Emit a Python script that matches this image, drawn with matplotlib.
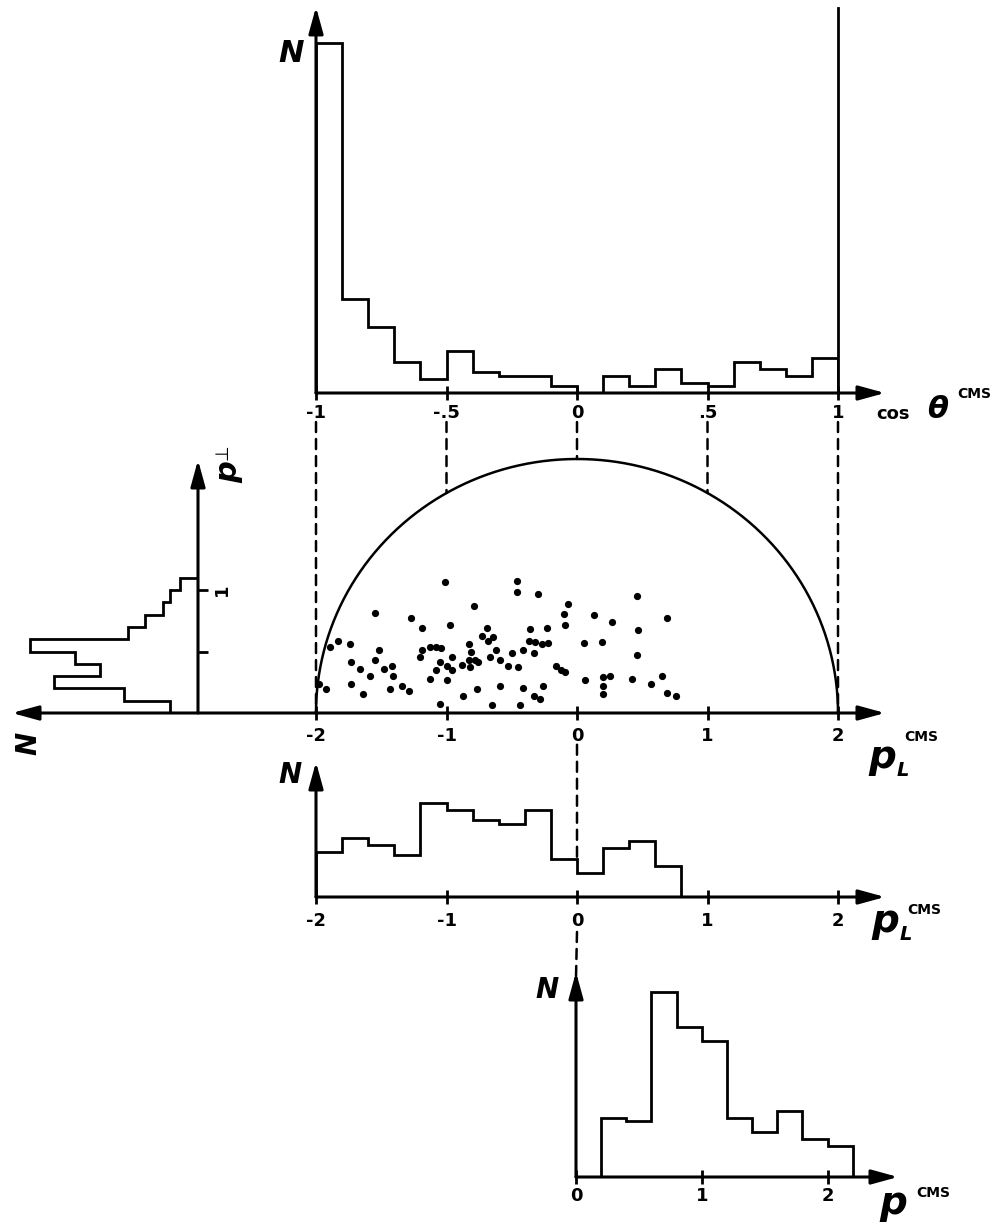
import numpy as np
import matplotlib
matplotlib.use("Agg")
import matplotlib.pyplot as plt
from matplotlib.patches import ConnectionPatch

# ---- histogram contents (events per bin) ----
cos_start, cos_width = -1.0, 0.1
cos_counts = [100, 27, 19, 9, 4, 12, 6, 5, 5, 2, 0, 5, 2, 7, 3, 2, 9, 7, 5, 10]

pl_start, pl_width = -2.0, 0.2
pl_counts = [13, 17, 15, 12, 27, 25, 22, 21, 25, 11, 7, 14, 16, 9]

pt_start, pt_width = 0.0, 0.1
pt_counts = [8, 21, 41, 28, 35, 48, 20, 15, 10, 8, 5]

p_start, p_width = 0.2, 0.2
p_counts = [17, 16, 53, 43, 39, 17, 13, 19, 11, 9]

# ---- single events in the (p_L, p_T) plane ----
pl_events = [
    -1.01, -0.79, -1.55, -1.27, -1.19, -0.97,
    -0.96, -1.05, -1.00, -1.08, -0.96, -1.00,
    -0.83, -0.81, -0.83, -0.78, -0.88, -0.82, -0.76, -0.67, -0.59,
    -0.69, -0.73, -0.64, -0.68, -0.62,
    -1.83, -1.74, -1.89, -1.52, -1.19, -1.13, -1.08, -1.04, -1.20, -1.55,
    -1.73, -1.66, -1.48, -1.42, -1.41, -1.59, -1.13, -1.73, -1.92, -1.98,
    -1.43, -1.34, -1.29, -1.64, -0.77, -0.59, -0.87, -1.05, -0.65,
    -0.46, -0.46, -0.30, -0.07, -0.10, -0.09, 0.13, 0.27, 0.46, 0.69,
    0.47, -0.36, -0.23, -0.37, -0.32, -0.27, -0.22, -0.41, -0.33, -0.50,
    -0.53, -0.45, 0.05, 0.19, 0.46, -0.16, -0.12, -0.09, -0.41, -0.26,
    -0.33, -0.28, -0.44, 0.06, 0.20, 0.25, 0.20, 0.20, 0.42, 0.57,
    0.65, 0.69, 0.76,
]
pt_events = [
    1.03, 0.84, 0.79, 0.75, 0.67, 0.69,
    0.44, 0.40, 0.37, 0.34, 0.34, 0.26,
    0.54, 0.48, 0.42, 0.42, 0.38, 0.36, 0.40, 0.44, 0.42,
    0.67, 0.61, 0.60, 0.57, 0.50,
    0.57, 0.54, 0.52, 0.50, 0.50, 0.52, 0.52, 0.51, 0.44, 0.42,
    0.40, 0.35, 0.35, 0.37, 0.29, 0.29, 0.27, 0.23, 0.19, 0.23,
    0.19, 0.21, 0.17, 0.15, 0.19, 0.21, 0.13, 0.07, 0.06,
    1.04, 0.95, 0.94, 0.86, 0.78, 0.69, 0.77, 0.72, 0.92, 0.75,
    0.65, 0.66, 0.67, 0.57, 0.56, 0.54, 0.55, 0.50, 0.47, 0.47,
    0.37, 0.36, 0.55, 0.56, 0.46, 0.37, 0.34, 0.32, 0.20, 0.21,
    0.13, 0.11, 0.06, 0.26, 0.28, 0.29, 0.21, 0.15, 0.27, 0.23,
    0.29, 0.16, 0.13,
]

P_MAX = 2.0  # kinematic limit of the momentum

cos_ticks = [-1, -0.5, 0, 0.5, 1]
cos_ticklabels = ["-1", "-.5", "0", ".5", "1"]
pl_ticks = [-2, -1, 0, 1, 2]
pl_ticklabels = ["-2", "-1", "0", "1", "2"]
p_ticks = [0, 1, 2]
p_ticklabels = ["0", "1", "2"]
pt_ticks = [0.5, 1.0]
pt_ticklabels = ["", "1"]

W, H = 1006, 1228
LW = 2.0
DASH = (0, (4, 2.8))
ARROW = "-|>,head_length=0.8,head_width=0.22"

plt.rcParams["font.family"] = "DejaVu Sans"
plt.rcParams["font.weight"] = "bold"

fig = plt.figure(figsize=(W / 100, H / 100), dpi=100)


def edges(start, width, counts):
    return start + width * np.arange(len(counts) + 1)


def panel(x0, x1, y0, y1):
    # axes box given in pixels from the top-left corner
    ax = fig.add_axes([x0 / W, 1 - y1 / H, (x1 - x0) / W, (y1 - y0) / H])
    ax.patch.set_visible(False)
    for s in ax.spines.values():
        s.set_visible(False)
    return ax


def arrow(ax, start, end, lw=2.2):
    ax.annotate("", xy=end, xytext=start, xycoords="data", annotation_clip=False,
                arrowprops=dict(arrowstyle=ARROW, mutation_scale=20, lw=lw,
                                color="k", shrinkA=0, shrinkB=0))


def connect(axA, xyA, axB, xyB, **kw):
    cp = ConnectionPatch(xyA=xyA, coordsA="data", axesA=axA,
                         xyB=xyB, coordsB="data", axesB=axB,
                         color="k", **kw)
    cp.set_annotation_clip(False)
    fig.add_artist(cp)


def label(x, y, s, size, **kw):
    kw.setdefault("fontweight", "bold")
    fig.text(x / W, 1 - y / H, s, fontsize=size, ha="center", va="center", **kw)


def xticks(ax, ticks, labels, pad):
    ax.set_xticks(ticks, labels)
    ax.set_yticks([])
    ax.tick_params(axis="x", direction="inout", length=10, width=2,
                   labelsize=13, pad=pad)


# ---- cos(theta) distribution ----
ax_cos = panel(316, 838, 8, 393)
ax_cos.set_xlim(-1, 1)
ax_cos.set_ylim(0, 110)
ax_cos.stairs(cos_counts, edges(cos_start, cos_width, cos_counts),
              color="k", lw=LW)
ax_cos.plot([1, 1], [0, 110], color="k", lw=LW, clip_on=False)
arrow(ax_cos, (-1, 0), (1.18, 0))
arrow(ax_cos, (-1, 0), (-1, 110.3))
xticks(ax_cos, cos_ticks, cos_ticklabels, 3)

# ---- p_L, p_T scatter with the kinematic boundary ----
ax_sc = panel(316, 838, 459, 713)
ax_sc.set_xlim(-2, 2)
ax_sc.set_ylim(0, 2)
phi = np.linspace(0, np.pi, 400)
ax_sc.plot(P_MAX * np.cos(phi), P_MAX * np.sin(phi), color="k", lw=1.8,
           clip_on=False)
ax_sc.plot(pl_events, pt_events, "o", color="k", ms=5.2, mew=0)
arrow(ax_sc, (-2, 0), (2.36, 0))
xticks(ax_sc, pl_ticks, pl_ticklabels, 5)

# dashed projections from cos(theta) to the boundary
for c in cos_ticks:
    connect(ax_cos, (c, -8.3), ax_sc,
            (P_MAX * c, P_MAX * np.sqrt(1 - c ** 2)), lw=1.8, ls=DASH)

# ---- p_T distribution, turned on its side ----
ax_pt = panel(12, 198, 460, 713)
ax_pt.set_xlim(53, 0)
ax_pt.set_ylim(0, 2.06)
ax_pt.stairs(pt_counts, edges(pt_start, pt_width, pt_counts),
             orientation="horizontal", color="k", lw=LW)
arrow(ax_pt, (0, 0), (0, 2.06))
connect(ax_sc, (-2, 0), ax_pt, (53, 0), lw=2.2, arrowstyle=ARROW,
        mutation_scale=20)
ax_pt.yaxis.tick_right()
ax_pt.set_yticks(pt_ticks, pt_ticklabels)
ax_pt.set_xticks([])
ax_pt.tick_params(axis="y", direction="out", length=7, width=2,
                  labelsize=13, labelrotation=90, pad=4)

# ---- p_L distribution ----
ax_pl = panel(316, 838, 762, 897)
ax_pl.set_xlim(-2, 2)
ax_pl.set_ylim(0, 38.6)
pl_edges = edges(pl_start, pl_width, pl_counts)
ax_pl.stairs(pl_counts, pl_edges, color="k", lw=LW)
arrow(ax_pl, (-2, 0), (2.36, 0))
arrow(ax_pl, (-2, 0), (-2, 38.6))
xticks(ax_pl, pl_ticks, pl_ticklabels, 6)

i0 = int(np.argmin(np.abs(pl_edges - 0)))
connect(ax_sc, (0, -0.25), ax_pl, (0, max(pl_counts[i0 - 1], pl_counts[i0])),
        lw=1.8, ls=DASH)

# ---- total momentum distribution ----
ax_p = panel(576, 898, 972, 1177)
ax_p.set_xlim(0, 2.56)
ax_p.set_ylim(0, 58.6)
ax_p.stairs(p_counts, edges(p_start, p_width, p_counts), color="k", lw=LW)
arrow(ax_p, (0, 0), (2.56, 0))
arrow(ax_p, (0, 0), (0, 58.6))
xticks(ax_p, p_ticks, p_ticklabels, 2)

connect(ax_pl, (0, -10), ax_p, (0, 57), lw=1.8, ls=DASH)

# ---- axis titles ----
label(291, 54, "N", 22, style="italic")
label(893, 414, "cos", 13)
label(938, 409, "θ", 22, style="italic")
label(974, 394, "CMS", 10)

label(882, 757, "p", 28, style="italic")
label(903, 771, "L", 14, style="italic")
label(921, 737, "CMS", 10)

label(290, 775, "N", 20, style="italic")
label(885, 921, "p", 28, style="italic")
label(906, 935, "L", 14, style="italic")
label(924, 910, "CMS", 10)

label(547, 990, "N", 20, style="italic")
label(893, 1203, "p", 28, style="italic")
label(933, 1193, "CMS", 10)

# rotated p-perp label beside the vertical p_T axis
label(229, 472, "p", 22, style="italic", rotation=90)
label(222, 452, "\u22a5", 13, fontweight="normal", rotation=90)
label(28, 743, "N", 20, style="italic", rotation=90)

fig.savefig("out.png", dpi=100)
